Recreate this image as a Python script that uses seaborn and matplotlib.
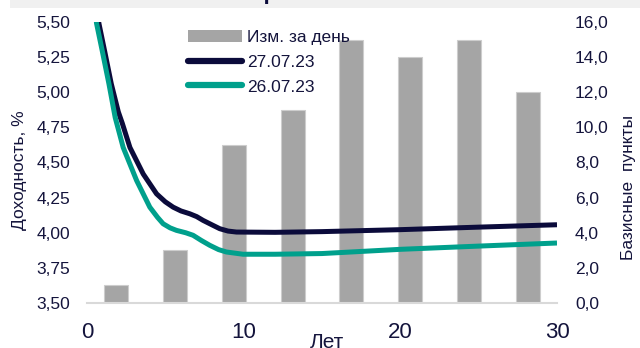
import matplotlib
matplotlib.use("Agg")
import matplotlib.pyplot as plt
import seaborn as sns
from matplotlib.ticker import FuncFormatter, FixedLocator
from matplotlib.patches import Rectangle, Patch
from matplotlib.lines import Line2D

# ---- data ----
bar_categories = ["c1", "c2", "c3", "c4", "c5", "c6", "c7", "c8"]
bar_values = [1.0, 3.0, 9.0, 11.0, 15.0, 14.0, 15.0, 12.0]

years_2707 = [0.40, 0.76, 1.15, 1.55, 2.00, 2.25, 2.74, 3.59, 4.44, 5.00, 5.50, 6.00,
              6.56, 7.00, 7.41, 8.00, 8.47, 9.00, 9.54, 12.0, 15.0, 20.0, 25.0, 30.0]
yield_2707 = [5.80, 5.49, 5.28, 5.06, 4.86, 4.78, 4.607, 4.418, 4.277, 4.220, 4.182, 4.155,
              4.135, 4.115, 4.088, 4.055, 4.029, 4.012, 4.005, 4.003, 4.008, 4.022, 4.040, 4.057]

years_2607 = [0.30, 0.61, 1.00, 1.40, 1.80, 2.31, 3.17, 4.01, 4.50, 4.86, 5.30, 5.71,
              6.30, 6.77, 7.30, 7.83, 8.40, 8.90, 9.96, 12.0, 15.0, 20.0, 25.0, 30.0]
yield_2607 = [5.80, 5.49, 5.28, 5.06, 4.82, 4.607, 4.371, 4.182, 4.110, 4.064, 4.035, 4.017,
              4.000, 3.982, 3.945, 3.911, 3.880, 3.863, 3.847, 3.847, 3.852, 3.882, 3.905, 3.927]

left_ticks = [3.50, 3.75, 4.00, 4.25, 4.50, 4.75, 5.00, 5.25, 5.50]
right_ticks = [0, 2, 4, 6, 8, 10, 12, 14, 16]
x_ticks = [0, 10, 20, 30]

title_text = "Кривая ОФЗ"
legend_labels = ["Изм. за день", "27.07.23", "26.07.23"]
ylabel_left = "Доходность, %"
ylabel_right = "Базисные  пункты"
xlabel = "Лет"

# ---- style ----
NAVY = "#0b0b3b"
TEAL = "#00a08c"
GREY = "#a5a5a5"
TXT = "#14143c"

sns.set_theme(style="white")
plt.rcParams["font.family"] = ["Liberation Sans", "DejaVu Sans"]

W, H = 640, 348
fig = plt.figure(figsize=(W / 100, H / 100), dpi=100)
fig.patch.set_facecolor("white")

def fx(px):
    return px / W

def fy(py):
    return 1 - py / H

pos = [fx(87), fy(303), fx(557) - fx(87), fy(22) - fy(303)]

# bars (secondary, categorical)
axb = fig.add_axes(pos)
sns.barplot(x=bar_categories, y=bar_values, ax=axb, color=GREY, saturation=1,
            width=0.41, edgecolor="#cdcdcd", linewidth=0.8)
axb.set_xlim(-0.5, len(bar_categories) - 0.5)
axb.set_ylim(0, 16)
axb.set_xticks([])
axb.set_xlabel("")
axb.yaxis.tick_right()
axb.yaxis.set_major_locator(FixedLocator(right_ticks))
axb.yaxis.set_major_formatter(FuncFormatter(lambda v, p: f"{v:.1f}".replace(".", ",")))
axb.tick_params(axis="y", length=0, pad=13, labelsize=12.5, labelcolor=TXT)
for s in axb.spines.values():
    s.set_visible(False)
axb.set_ylabel("")

# lines (primary)
axl = fig.add_axes(pos)
axl.patch.set_visible(False)
sns.lineplot(x=years_2707, y=yield_2707, ax=axl, color=NAVY, linewidth=3.6,
             solid_capstyle="butt", solid_joinstyle="round")
sns.lineplot(x=years_2607, y=yield_2607, ax=axl, color=TEAL, linewidth=3.6,
             solid_capstyle="butt", solid_joinstyle="round")
axl.set_xlim(0, 30)
axl.set_ylim(3.5, 5.5)
axl.xaxis.set_major_locator(FixedLocator(x_ticks))
axl.yaxis.set_major_locator(FixedLocator(left_ticks))
axl.yaxis.set_major_formatter(FuncFormatter(lambda v, p: f"{v:.2f}".replace(".", ",")))
axl.tick_params(axis="y", length=0, pad=12, labelsize=12.5, labelcolor=TXT)
axl.tick_params(axis="x", length=0, pad=14, labelsize=16, labelcolor=TXT)
for k, s in axl.spines.items():
    s.set_visible(k == "bottom")
axl.spines["bottom"].set_color("#d9d9d9")
axl.spines["bottom"].set_linewidth(1.5)
axl.set_xlabel("")
axl.set_ylabel("")

# axis titles
fig.text(fx(20), fy(170), ylabel_left, rotation=90, ha="center", va="center",
         fontsize=12.5, color=TXT)
fig.text(fx(628), fy(187), ylabel_right, rotation=90, ha="center", va="center",
         fontsize=12.5, color=TXT)
fig.text(fx(327), fy(343), xlabel, ha="center", va="center", fontsize=15, color=TXT)

# legend
handles = [Patch(facecolor=GREY, edgecolor="none"),
           Line2D([], [], color=NAVY, linewidth=4.5, solid_capstyle="round"),
           Line2D([], [], color=TEAL, linewidth=4.5, solid_capstyle="round")]
leg = fig.legend(handles, legend_labels, loc="upper left",
                 bbox_to_anchor=(fx(188), fy(30)), bbox_transform=fig.transFigure,
                 frameon=False, fontsize=12.5, handlelength=3.1, handletextpad=0.3,
                 labelspacing=0.55, borderpad=0, borderaxespad=0)
for t in leg.get_texts():
    t.set_color(TXT)

# clipped title strip at the top
fig.add_artist(Rectangle((fx(10), fy(7.5)), 1 - fx(10), 7.5 / H,
                         transform=fig.transFigure, facecolor="#f0f0f0",
                         edgecolor="none", zorder=0))
fig.text(fx(318), fy(-1.0), title_text, ha="center", va="baseline", fontsize=16,
         fontweight="bold", color=NAVY)

fig.savefig("out.png", dpi=100)
